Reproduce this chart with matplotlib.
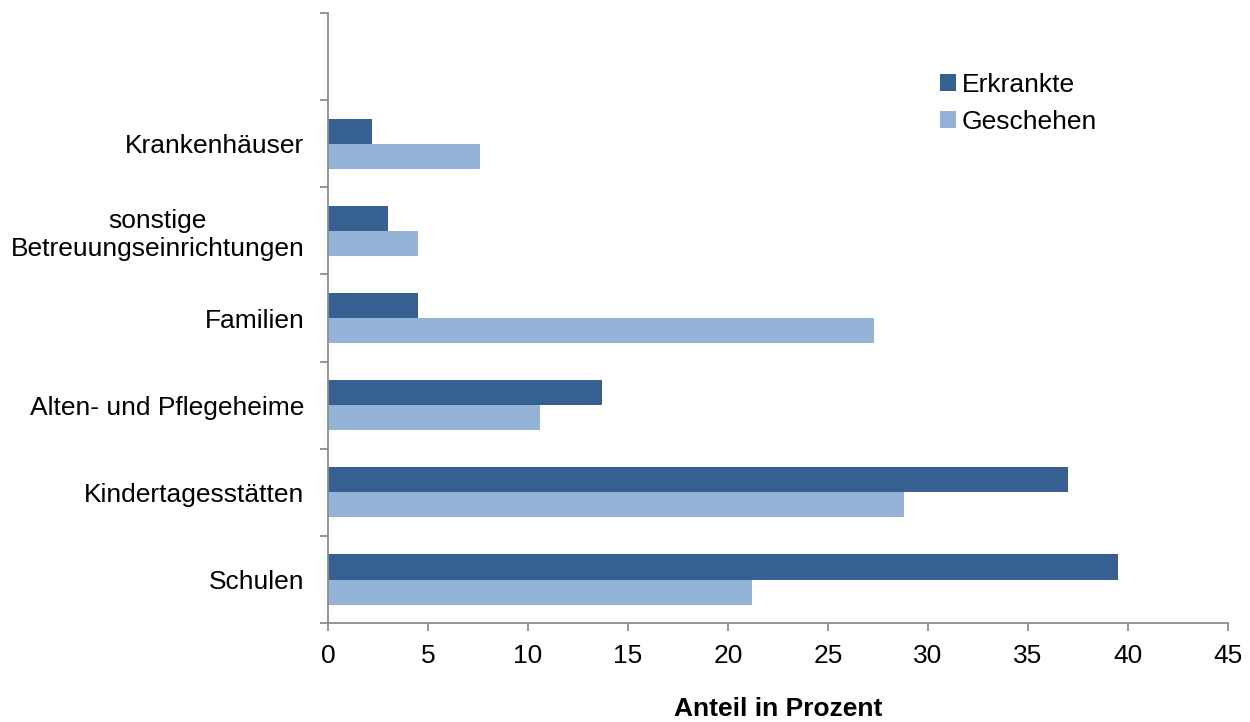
import matplotlib.pyplot as plt
from matplotlib.ticker import FixedLocator
import numpy as np

plt.rcParams['font.family'] = ['Liberation Sans', 'DejaVu Sans']

categories = ["Schulen", "Kindertagesstätten", "Alten- und Pflegeheime", "Familien",
              "sonstige\nBetreuungseinrichtungen", "Krankenhäuser", ""]
erkrankte = [39.5, 37.0, 13.7, 4.5, 3.0, 2.2, np.nan]
geschehen = [21.2, 28.8, 10.6, 27.3, 4.5, 7.6, np.nan]
xticks = [0, 5, 10, 15, 20, 25, 30, 35, 40, 45]

dark = "#376092"
light = "#95B3D7"
grey = "#8c8c8c"

fig = plt.figure(figsize=(12.5, 7.22), dpi=100)
ax = fig.add_axes([0.2624, 0.137, 0.72, 0.845])

y = np.arange(len(categories))
h = 0.287
ax.barh(y + h / 2, erkrankte, height=h, color=dark, label="Erkrankte")
ax.barh(y - h / 2, geschehen, height=h, color=light, label="Geschehen")

ax.set_xlim(0, 45)
ax.set_ylim(-0.5, len(categories) - 0.5)
ax.set_xticks(xticks)
ax.set_yticks(y)
ax.set_yticklabels(categories, multialignment='center')
ax.yaxis.set_minor_locator(FixedLocator(np.arange(-0.5, len(categories), 1)))

ax.tick_params(axis='y', which='major', length=0, pad=17, labelsize=19)
ax.tick_params(axis='y', which='minor', length=6, width=1.3, color=grey, direction='out')
ax.tick_params(axis='x', length=6, width=1.3, color=grey, direction='out', pad=9, labelsize=19)

for s in ['top', 'right']:
    ax.spines[s].set_visible(False)
for s in ['left', 'bottom']:
    ax.spines[s].set_color(grey)
    ax.spines[s].set_linewidth(1.3)

ax.set_xlabel("Anteil in Prozent", fontsize=19, fontweight='bold', labelpad=21)

fig.legend(loc='center left', bbox_to_anchor=(0.733, 0.857), frameon=False,
           fontsize=19, handlelength=0.6, handleheight=0.6, handletextpad=0.22,
           labelspacing=0.5)

fig.savefig("out.png", dpi=100)
